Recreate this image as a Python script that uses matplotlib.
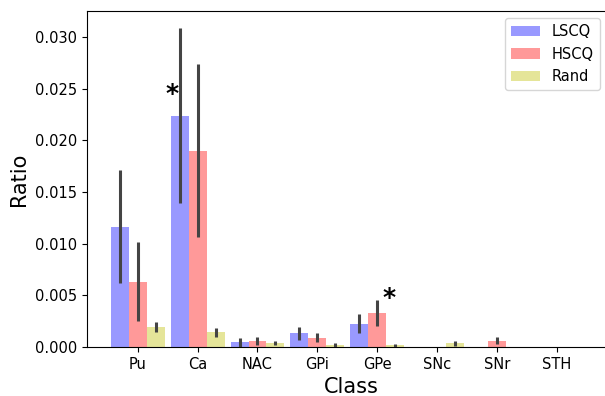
import numpy as np
import matplotlib
matplotlib.use('Agg')
import matplotlib.pyplot as plt

classes = ['Pu', 'Ca', 'NAC', 'GPi', 'GPe', 'SNc', 'SNr', 'STH']

lscq = [0.01164, 0.02238, 0.00045, 0.00135, 0.00226, 0.0, 0.0, 0.0]
lscq_lo = [0.00616, 0.01397, 0.00003, 0.00068, 0.00139, 0.0, 0.0, 0.0]
lscq_hi = [0.01710, 0.03084, 0.00084, 0.00197, 0.00316, 0.0, 0.0, 0.0]

hscq = [0.00632, 0.01900, 0.00058, 0.00090, 0.00332, 0.0, 0.00058, 0.0]
hscq_lo = [0.00252, 0.01068, 0.00020, 0.00051, 0.00206, 0.0, 0.00030, 0.0]
hscq_hi = [0.01013, 0.02739, 0.00094, 0.00132, 0.00455, 0.0, 0.00097, 0.0]

rand = [0.00197, 0.00142, 0.00036, 0.00016, 0.00016, 0.00039, 0.0, 0.0]
rand_lo = [0.00148, 0.00100, 0.00020, 0.00000, 0.00000, 0.00010, 0.0, 0.0]
rand_hi = [0.00245, 0.00187, 0.00058, 0.00036, 0.00029, 0.00058, 0.0, 0.0]

# significance markers: (x position, height)
stars_x = [0.57, 4.2]
stars_y = [0.0245, 0.0047]

fig = plt.figure(figsize=(6.05, 3.96), dpi=100)
ax = fig.add_axes([0.1438, 0.124, 0.875, 0.848])

x = np.arange(len(classes))
w = 0.3
series = [
    ('LSCQ', lscq, lscq_lo, lscq_hi, 'blue', -w),
    ('HSCQ', hscq, hscq_lo, hscq_hi, 'red', 0),
    ('Rand', rand, rand_lo, rand_hi, 'y', w),
]
for name, vals, lo, hi, col, off in series:
    vals = np.array(vals)
    ax.bar(x + off, vals, w, color=col, alpha=0.4, label=name, linewidth=0)
    for xi, l, h in zip(x + off, lo, hi):
        if h > l:
            ax.vlines(xi, l, h, color='#444444', linewidth=2.2, zorder=3)

for sx, sy in zip(stars_x, stars_y):
    ax.text(sx, sy, '*', fontsize=18, fontweight='bold', ha='center', va='center')

ax.set_xticks(x)
ax.set_xticklabels(classes)
ax.set_xlim(-0.85, 8.0)
ax.set_ylim(0, 0.0325)
ax.set_yticks(np.arange(0, 0.0301, 0.005))
ax.yaxis.set_major_formatter(matplotlib.ticker.FormatStrFormatter('%.3f'))
ax.tick_params(labelsize=10.5)
ax.set_xlabel('Class', fontsize=15)
ax.set_ylabel('Ratio', fontsize=15)
ax.legend(loc='upper right', fontsize=10.5,
          bbox_to_anchor=(1.003, 0.972), bbox_transform=fig.transFigure)

fig.savefig('out.png', dpi=100)
